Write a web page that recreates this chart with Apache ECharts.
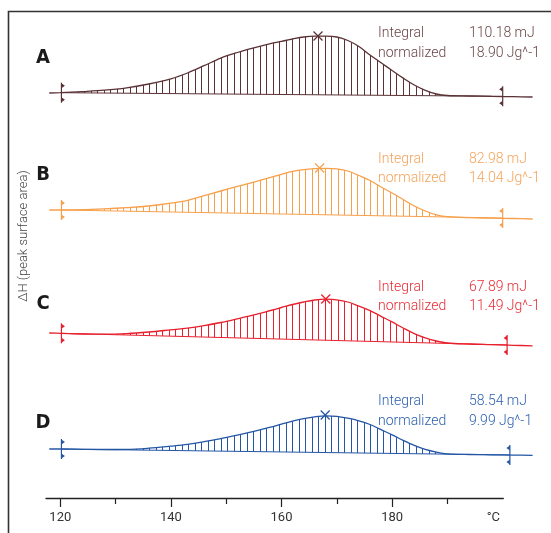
<!DOCTYPE html>
<html>
<head>
<meta charset="UTF-8">
<title>DSC peak integration</title>
<style>
  html, body { margin: 0; padding: 0; background: #fff; }
  #chart { width: 551px; height: 533px; }
</style>
<script src="https://cdn.jsdelivr.net/npm/echarts@6/dist/echarts.min.js"></script>
</head>
<body>
<div id="chart"></div>
<script>
  // temperatures (°C) shared by all four curves
  var temps = [118, 120, 124, 128, 132, 136, 140, 143, 146, 149, 152, 155, 158, 160, 162, 164, 166,
               168, 170, 172, 174, 176, 178, 180, 182, 184, 186, 188, 190, 194, 198, 202, 205.4];

  // heat flow signal, arbitrary units, each curve with its own offset
  var curveA = [405.0, 405.3, 406.4, 407.8, 410.2, 414.0, 419.2, 425.0, 432.3, 439.9, 445.5, 450.2, 454.4, 456.7, 459.0, 461.0, 461.8,
                461.8, 461.0, 457.5, 451.5, 443.0, 435.3, 427.5, 419.9, 413.0, 407.7, 404.0, 402.5, 402.0, 401.6, 401.3, 401.0];
  var curveB = [288.0, 288.0, 288.3, 289.2, 290.4, 292.0, 294.8, 297.7, 302.4, 307.0, 311.6, 315.9, 320.6, 323.7, 326.6, 328.4, 329.4,
                329.7, 329.2, 327.0, 322.5, 317.5, 311.0, 305.0, 298.5, 292.0, 287.0, 283.2, 281.3, 280.3, 279.9, 279.5, 279.0];
  var curveC = [165.0, 164.7, 164.0, 163.8, 164.4, 166.0, 168.2, 169.9, 172.4, 175.5, 179.2, 183.1, 187.5, 190.5, 193.5, 196.0, 198.0,
                198.8, 198.2, 196.0, 191.8, 187.4, 181.7, 176.1, 170.0, 164.4, 160.1, 157.0, 155.0, 154.0, 153.4, 152.7, 152.2];
  var curveD = [49.0, 49.0, 48.7, 48.5, 48.6, 49.8, 51.9, 53.7, 56.3, 59.3, 62.8, 66.6, 70.8, 73.9, 76.8, 79.3, 81.2,
                82.2, 81.7, 79.8, 77.2, 73.5, 68.3, 63.2, 57.7, 52.7, 48.6, 45.9, 44.2, 43.5, 43.2, 42.9, 42.6];

  var names = ['A', 'B', 'C', 'D'];
  var integrals = ['110.18 mJ', '82.98 mJ', '67.89 mJ', '58.54 mJ'];
  var normalized = ['18.90 Jg^-1', '14.04 Jg^-1', '11.49 Jg^-1', '9.99 Jg^-1'];
  // integration limits: temperature and signal at left / right marker
  var limitsT = [[120.2, 200], [120.2, 200], [120.2, 200.8], [120.2, 201.3]];
  var limitsV = [[405.3, 401.7], [288, 280], [164.7, 153], [49, 43]];
  // peak marks
  var peaks = [[166.6, 462], [166.9, 330], [168.0, 199], [167.9, 83]];

  var majorTicks = [120, 140, 160, 180];
  var minorTicks = [130, 150, 170, 190];
  var unitPos = 198.3;

  var curves = [curveA, curveB, curveC, curveD];
  var colors = ['#5a3236', '#f7a04c', '#e8202e', '#2456a4'];
  var textColors = ['#6a4546', '#f5a35a', '#e52d34', '#2b5fae'];
  var letterY = [57.5, 174.5, 304, 422.7];
  var textY = [[33.5, 53.5], [159.5, 178.5], [287, 306], [401, 421]];

  function hatch(color) {
    var c = document.createElement('canvas');
    c.width = 13; c.height = 4;
    var ctx = c.getContext('2d');
    ctx.fillStyle = color;
    ctx.fillRect(0, 0, 1, 4);
    ctx.fillRect(6, 0, 1, 4);
    return c;
  }
  var patterns = colors.map(hatch);

  function marker(p, dir, col) {
    var x = p[0], y = p[1];
    return [
      { type: 'line', shape: { x1: x, y1: y - 10, x2: x, y2: y + 10 }, style: { stroke: col, lineWidth: 1.2 } },
      { type: 'polygon', shape: { points: [[x, y - 9.5], [x + 3.5 * dir, y - 7], [x, y - 4.5]] }, style: { fill: col } },
      { type: 'polygon', shape: { points: [[x, y + 4.5], [x + 3.5 * dir, y + 7], [x, y + 9.5]] }, style: { fill: col } }
    ];
  }

  function peakRender(k) {
    return function (params, api) {
      var lo = limitsT[k], lv = limitsV[k], col = colors[k];
      var p0 = api.coord([lo[0], lv[0]]);
      var p1 = api.coord([lo[1], lv[1]]);
      var pts = [p0];
      for (var i = 0; i < temps.length; i++) {
        if (temps[i] > lo[0] && temps[i] < lo[1]) pts.push(api.coord([temps[i], curves[k][i]]));
      }
      pts.push(p1);
      var c = api.coord(peaks[k]);
      var kids = [
        { type: 'polygon', shape: { points: pts }, style: { fill: { image: patterns[k], repeat: 'repeat' }, stroke: null } },
        { type: 'line', shape: { x1: p0[0], y1: p0[1], x2: p1[0], y2: p1[1] }, style: { stroke: col, lineWidth: 1 } },
        { type: 'line', shape: { x1: c[0] - 4.5, y1: c[1] - 4.5, x2: c[0] + 4.5, y2: c[1] + 4.5 }, style: { stroke: col, lineWidth: 1.2 } },
        { type: 'line', shape: { x1: c[0] - 4.5, y1: c[1] + 4.5, x2: c[0] + 4.5, y2: c[1] - 4.5 }, style: { stroke: col, lineWidth: 1.2 } }
      ];
      kids = kids.concat(marker(p0, 1, col), marker(p1, -1, col));
      return { type: 'group', children: kids };
    };
  }

  var series = [];
  for (var k = 0; k < 4; k++) {
    series.push({
      type: 'custom',
      xAxisIndex: 2, yAxisIndex: 1,
      renderItem: peakRender(k),
      data: [[limitsT[k][0], limitsV[k][0]]],
      silent: true
    });
    series.push({
      type: 'line',
      xAxisIndex: 2, yAxisIndex: 1,
      data: temps.map(function (t, i) { return [t, curves[k][i]]; }),
      smooth: 0.35,
      showSymbol: false,
      lineStyle: { color: colors[k], width: 1.3 },
      silent: true
    });
  }

  var font = '300 14px Roboto, "Noto Sans", sans-serif';
  var graphics = [
    { type: 'polyline', shape: { points: [[8.5, 533], [8.5, 11.5], [551, 11.5]] },
      style: { stroke: '#333', lineWidth: 1.6, fill: null } },
    { type: 'text', x: 24, y: 236, rotation: Math.PI / 2,
      style: { text: 'ΔH (peak surface area)', fill: '#444', font: '300 13px Roboto, sans-serif',
               textAlign: 'center', textVerticalAlign: 'middle', align: 'center', verticalAlign: 'middle' } }
  ];
  for (var j = 0; j < 4; j++) {
    graphics.push({ type: 'text', x: 43, y: letterY[j],
      style: { text: names[j], fill: '#1a1a1a', font: 'bold 20px "Liberation Sans Narrow", "DejaVu Sans Condensed", sans-serif',
               textAlign: 'center', textVerticalAlign: 'middle', align: 'center', verticalAlign: 'middle' } });
    var rows = [['Integral', integrals[j]], ['normalized', normalized[j]]];
    for (var r = 0; r < 2; r++) {
      graphics.push({ type: 'text', x: 378, y: textY[j][r],
        style: { text: rows[r][0], fill: textColors[j], font: font, textVerticalAlign: 'middle', verticalAlign: 'middle' } });
      graphics.push({ type: 'text', x: 469, y: textY[j][r],
        style: { text: rows[r][1], fill: textColors[j], font: font, textVerticalAlign: 'middle', verticalAlign: 'middle' } });
    }
  }

  var myChart = echarts.init(document.getElementById('chart'));
  myChart.setOption({
    animation: false,
    grid: [
      { left: 46, right: 47.7, top: 12, bottom: 35 },
      { left: 46, right: 18, top: 12, bottom: 35 }
    ],
    xAxis: [
      {
        type: 'value', gridIndex: 0, position: 'bottom', min: 117.41, max: 200.11,
        axisLine: { lineStyle: { color: '#222', width: 1.3 } },
        axisTick: { customValues: majorTicks, length: 9, lineStyle: { color: '#222', width: 1.2 } },
        axisLabel: {
          customValues: majorTicks.concat([unitPos]), margin: 13, color: '#333',
          fontSize: 13, fontFamily: 'Roboto, sans-serif',
          formatter: function (v) { return v > 195 ? '°C' : String(v); }
        },
        splitLine: { show: false }
      },
      {
        type: 'value', gridIndex: 0, position: 'bottom', min: 117.41, max: 200.11,
        axisLine: { show: false },
        axisTick: { customValues: minorTicks, length: 6, lineStyle: { color: '#222', width: 1.2 } },
        axisLabel: { show: false },
        splitLine: { show: false }
      },
      { type: 'value', gridIndex: 1, min: 117.41, max: 205.48, show: false }
    ],
    yAxis: [
      { type: 'value', gridIndex: 0, min: 0, max: 486, show: false },
      { type: 'value', gridIndex: 1, min: 0, max: 486, show: false }
    ],
    graphic: graphics,
    series: series
  });
</script>
</body>
</html>
